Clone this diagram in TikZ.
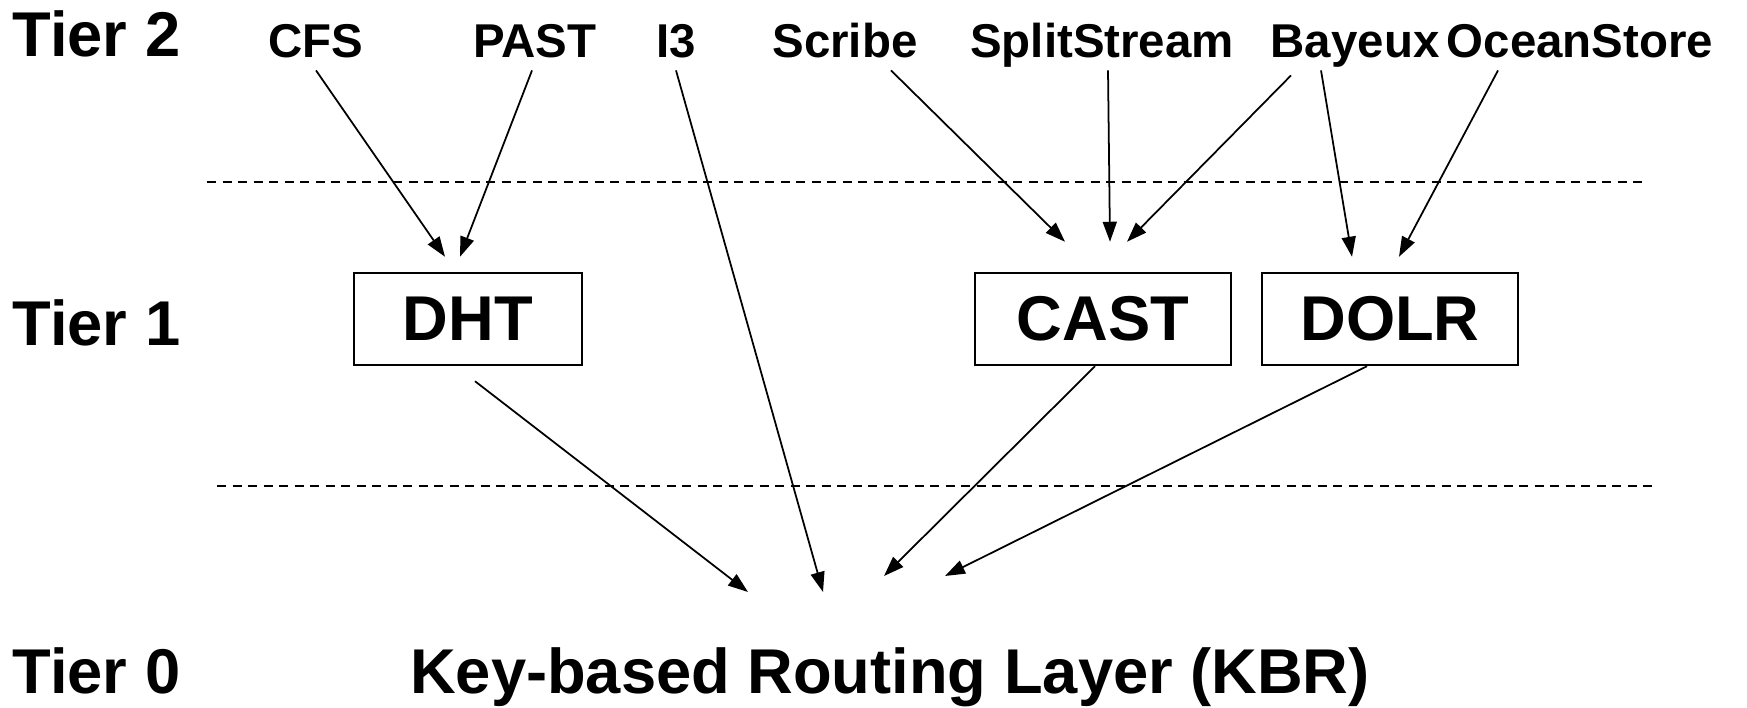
\documentclass[tikz,border=0pt]{standalone}
\usepackage{fontspec}
\setmainfont{Liberation Sans}
\usetikzlibrary{arrows.meta}

\tikzset{
  bigtext/.style={font=\fontsize{18}{21}\selectfont\bfseries},
  app/.style={font=\fontsize{13.5}{16}\selectfont\bfseries, text depth=0pt, anchor=base},
  tier/.style={bigtext, anchor=base west, inner sep=0pt},
  layer/.style={bigtext, draw, line width=0.7pt, minimum height=0.92cm},
  arr/.style={-{Triangle[length=0.2cm,width=0.14cm]}, line width=0.5pt},
  tierline/.style={dash pattern=on 0.09cm off 0.065cm, line width=0.6pt}
}

\begin{document}
\begin{tikzpicture}
\useasboundingbox (0,0) rectangle (17.47,7.07);

\node[tier] (tier2) at (0.12,6.50) {Tier 2};
\node[tier] (tier1) at (0.12,3.62) {Tier 1};
\node[tier] (tier0) at (0.12,0.14) {Tier 0};

\node[app] (cfs) at (3.16,6.49) {CFS};
\node[app] (past) at (5.35,6.49) {PAST};
\node[app] (ithree) at (6.76,6.49) {I3};
\node[app] (scribe) at (8.45,6.49) {Scribe};
\node[app] (split) at (11.02,6.49) {SplitStream};
\node[app] (bayeux) at (13.55,6.49) {Bayeux};
\node[app] (ocean) at (15.80,6.49) {OceanStore};

\node[layer, minimum width=2.28cm] (dht) at (4.68,3.88) {DHT};
\node[layer, minimum width=2.56cm] (cast) at (11.03,3.88) {CAST};
\node[layer, minimum width=2.56cm] (dolr) at (13.90,3.88) {DOLR};

\node[bigtext, anchor=base] (kbr) at (8.90,0.14) {Key-based Routing Layer (KBR)};

\draw[tierline] (2.07,5.25) -- (16.44,5.25);
\draw[tierline] (2.17,2.21) -- (16.55,2.21);

\draw[arr] (cfs.south) -- ([shift={(-0.23,0.15)}]dht.north);
\draw[arr] ([xshift=-0.03cm]past.south) -- ([shift={(-0.08,0.15)}]dht.north);
\draw[arr] ([xshift=0.46cm]scribe.south) -- ([shift={(-0.38,0.30)}]cast.north);
\draw[arr] ([xshift=0.06cm]split.south) -- ([shift={(0.07,0.30)}]cast.north);
\draw[arr] ([shift={(-0.64,-0.05)}]bayeux.south) -- ([shift={(0.24,0.30)}]cast.north);
\draw[arr] ([xshift=-0.34cm]bayeux.south) -- ([shift={(-0.38,0.15)}]dolr.north);
\draw[arr] ([xshift=-0.82cm]ocean.south) -- ([shift={(0.09,0.15)}]dolr.north);

\draw[arr] ([shift={(0.07,-0.15)}]dht.south) -- ([shift={(-1.42,1.01)}]kbr.base);
\draw[arr] (ithree.south) -- ([shift={(-0.67,1.01)}]kbr.base);
\draw[arr] ([xshift=-0.08cm]cast.south) -- ([shift={(-0.06,1.17)}]kbr.base);
\draw[arr] ([xshift=-0.23cm]dolr.south) -- ([shift={(0.55,1.17)}]kbr.base);
\end{tikzpicture}
\end{document}
